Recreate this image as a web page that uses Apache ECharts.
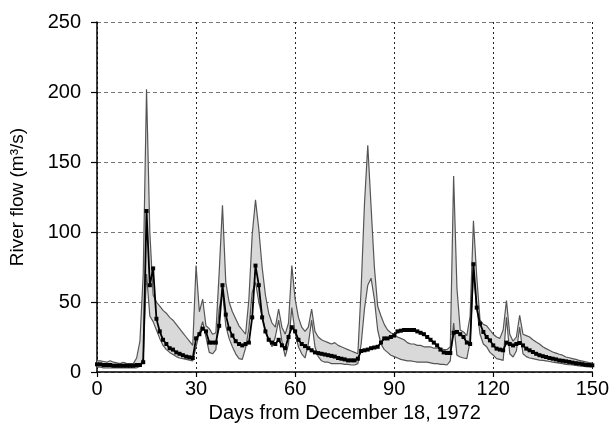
<!DOCTYPE html>
<html>
<head>
<meta charset="utf-8">
<script src="https://cdn.jsdelivr.net/npm/echarts@6/dist/echarts.min.js"></script>
<style>
  html, body { margin: 0; padding: 0; background: #fff; }
  #chart { width: 612px; height: 435px; }
</style>
</head>
<body>
<div id="chart"></div>
<script>
// daily values, day 0 .. 150
const upper = [
  8, 8, 7.5, 7, 8, 7, 6.5, 6, 7, 6, 6, 6, 10, 22, 70,
  202, 100, 55, 50, 47, 44, 42, 39, 37, 34, 31, 28, 25, 22, 19,
  76, 43, 52, 33, 31, 27, 28, 71, 119, 64, 50, 43, 38, 33, 30,
  27, 52, 98, 123, 102, 75, 55, 42, 35, 32, 45, 32, 27, 35, 76,
  52, 39, 32, 29, 32, 45, 29, 25, 23, 22, 21, 20, 21, 19, 18,
  17, 16, 15, 14, 13, 60, 120, 162, 118, 75, 47, 40, 34, 30, 28,
  27, 25, 24, 23, 21, 20, 20, 19, 19, 18, 18, 18, 17, 17, 17,
  16, 16, 18, 140, 60, 30, 28.6, 26, 40, 108, 68, 37, 34, 33, 30,
  27, 25, 24, 30, 51, 27, 22, 25, 40.5, 27, 26, 25, 23, 21.4, 20,
  18, 16.7, 15.5, 14.3, 13.5, 12.7, 12, 10.7, 10.2, 9.6, 9, 8.3, 7.8, 7.3, 6.8,
  6.4
];
const lower = [
  3.5, 3.5, 3, 3, 3, 3, 3, 3, 3, 3, 3, 3, 3, 4, 10,
  70, 40, 36, 30, 24, 19, 16, 14, 12.5, 11, 10, 9.5, 9, 8.5, 8,
  18, 28, 36, 25, 14, 13, 16, 45, 57, 33, 24, 18, 13, 9.5, 9,
  17, 31, 57, 64, 50, 40, 30, 23, 18, 25, 37, 22, 11, 20, 46,
  28, 18, 13, 10, 20, 37, 18, 11, 8, 7, 7, 6, 6, 6, 6,
  5.5, 5.5, 5, 5, 6, 20, 45, 62, 67, 52, 30, 20, 16, 14, 12,
  11, 10, 9, 8.5, 8, 8, 7.5, 7, 7, 7, 7, 6.5, 6, 6, 5.5,
  5.5, 5, 8, 35, 12, 10.7, 10, 9.5, 22, 72, 46, 27, 20, 18, 14,
  12, 9.5, 9, 8.3, 39, 13, 10.7, 15, 32, 13, 11, 10, 9.5, 9, 8.5,
  8.3, 8, 7.5, 7, 6.7, 6.3, 6, 5.5, 5.2, 5, 4.7, 4.3, 4.1, 3.9, 3.7,
  3.6
];
const observed = [
  5.5, 5.5, 5, 5, 5, 4.5, 4.5, 4.5, 4.5, 4.5, 4.5, 4.5, 5, 5, 7,
  115, 62, 74, 38, 29, 23, 20, 17, 16, 14, 13, 12, 11, 10.5, 10,
  24, 27, 31, 29, 21, 21, 21, 33, 62, 41, 31, 26, 22, 20, 19,
  20, 21, 39, 76, 62, 39, 29, 23, 21, 20, 23, 19, 17, 25, 32,
  29, 23, 20, 18.5, 17, 15.5, 14, 13.5, 13, 12.5, 12, 11.5, 11, 10, 9.5,
  9, 8.3, 8.3, 8.3, 9.5, 15, 15.5, 16, 17, 17.5, 18, 21, 24, 24, 25,
  26, 29, 29.5, 30, 30, 30, 30, 29, 28, 27, 25, 23, 21, 19, 16,
  14, 13.6, 13.6, 28, 28.6, 27, 25, 21, 20, 77, 46, 34.5, 28.6, 25, 22.6,
  19, 16.7, 16, 15.5, 21, 20, 19, 20, 20.7, 19, 16.7, 15.5, 14.3, 13, 12,
  11.3, 10.7, 10, 9.5, 9, 8.3, 8, 7.6, 7.2, 6.7, 6.3, 6, 5.6, 5.2, 5,
  4.8
];
const days = observed.map((v, i) => String(i));
const xStep = 30;   // tick labels 0, 30, ... 150
const yTicks = [0, 50, 100, 150, 200, 250];

const FONT = '"Liberation Sans", Arial, sans-serif';
const everyStep = (i) => i % xStep === 0;

const chart = echarts.init(document.getElementById('chart'), null, { renderer: 'canvas' });
chart.setOption({
  animation: false,
  backgroundColor: '#fff',
  grid: { left: 97, right: 17, top: 22, bottom: 63 },
  xAxis: {
    type: 'category',
    data: days,
    boundaryGap: false,
    name: 'Days from December 18, 1972',
    nameLocation: 'middle',
    nameGap: 28,
    nameTextStyle: { color: '#000', fontSize: 20, fontFamily: FONT },
    axisLine: { show: true, onZero: false, lineStyle: { color: '#000', width: 1.5 } },
    axisTick: { show: true, inside: false, length: 5, interval: everyStep, lineStyle: { color: '#000', width: 1.2 } },
    axisLabel: { color: '#000', fontSize: 20, fontFamily: FONT, margin: 7, interval: everyStep },
    splitLine: { show: true, interval: everyStep, lineStyle: { color: '#222', type: [2, 3], width: 1 } }
  },
  yAxis: {
    type: 'value',
    min: yTicks[0],
    max: yTicks[yTicks.length - 1],
    interval: 50,
    name: 'River flow (m³/s)',
    nameLocation: 'middle',
    nameGap: 70,
    nameTextStyle: { color: '#000', fontSize: 19, fontFamily: FONT },
    axisLine: { show: true, onZero: false, lineStyle: { color: '#000', width: 1.5 } },
    axisTick: { show: true, inside: false, length: 6, lineStyle: { color: '#000', width: 1.2 } },
    axisLabel: { color: '#000', fontSize: 20, fontFamily: FONT, margin: 16 },
    splitLine: { show: true, lineStyle: { color: '#777', type: [4, 3], width: 1 } }
  },
  series: [
    {
      // band base (invisible)
      type: 'line',
      stack: 'band',
      data: lower,
      symbol: 'none',
      lineStyle: { opacity: 0 },
      silent: true,
      z: 1
    },
    {
      // band thickness
      type: 'line',
      stack: 'band',
      data: upper.map((v, i) => v - lower[i]),
      symbol: 'none',
      lineStyle: { opacity: 0 },
      areaStyle: { color: '#d9d9d9', opacity: 1 },
      silent: true,
      z: 1
    },
    {
      type: 'line',
      data: upper,
      symbol: 'none',
      lineStyle: { color: '#555', width: 1.2 },
      z: 2
    },
    {
      type: 'line',
      data: lower,
      symbol: 'none',
      lineStyle: { color: '#555', width: 1.2 },
      z: 2
    },
    {
      type: 'line',
      data: observed,
      symbol: 'rect',
      symbolSize: 4,
      showAllSymbol: true,
      itemStyle: { color: '#000' },
      lineStyle: { color: '#000', width: 1.8 },
      z: 3
    }
  ]
});
</script>
</body>
</html>
